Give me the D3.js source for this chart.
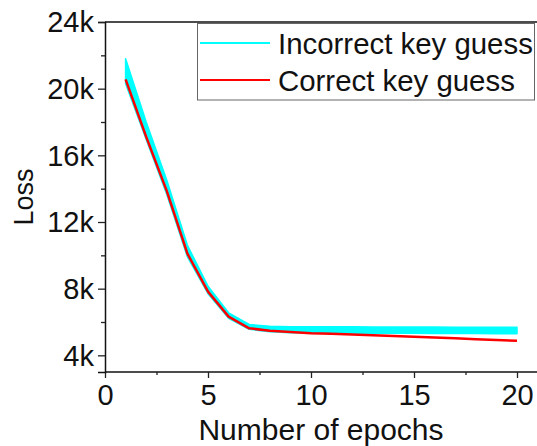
<!DOCTYPE html>
<html>
<head>
<meta charset="utf-8">
<script src="https://cdn.jsdelivr.net/npm/d3@7"></script>
<style>
  html, body { margin: 0; padding: 0; background: #fff; }
  svg { display: block; font-family: "Liberation Sans", Arial, sans-serif; }
</style>
</head>
<body>
<svg id="chart" width="537" height="446"></svg>
<script>
// Training epochs
const epochs = [1, 2, 3, 4, 5, 6, 7, 8, 9, 10, 11, 12, 13, 14, 15, 16, 17, 18, 19, 20];
// Loss (in thousands) for the correct key guess
const correctLoss = [20.56, 17.11, 13.85, 10.1, 7.82, 6.32, 5.62, 5.48, 5.40, 5.33, 5.29, 5.25, 5.21, 5.16, 5.12, 5.07, 5.02, 4.97, 4.92, 4.87];
// Envelope (min / max, thousands) of the loss over all incorrect key guesses
const incorrectLow  = [20.3, 16.95, 13.65, 9.9, 7.7, 6.22, 5.56, 5.42, 5.36, 5.34, 5.33, 5.33, 5.32, 5.32, 5.32, 5.31, 5.31, 5.31, 5.30, 5.30];
const incorrectHigh = [21.8, 18.0, 14.5, 10.6, 8.15, 6.55, 5.85, 5.74, 5.72, 5.71, 5.71, 5.71, 5.70, 5.70, 5.70, 5.70, 5.69, 5.69, 5.69, 5.69];
// Axis ticks
const xTicks = [0, 5, 10, 15, 20];
const xMinorTicks = [2.5, 7.5, 12.5, 17.5];
const yTicks = [4, 8, 12, 16, 20, 24];
const yMinorTicks = [6, 10, 14, 18, 22];
const yTickLabels = ["4k", "8k", "12k", "16k", "20k", "24k"];
// Legend entries
const legendLabels = ["Incorrect key guess", "Correct key guess"];
const legendColors = ["#00ffff", "#ff0000"];

const svg = d3.select("#chart");
const x = d3.scaleLinear().domain([0, 21]).range([105, 537.6]);
const y = d3.scaleLinear().domain([3, 24]).range([372, 22]);

const band = epochs.map((e, i) => ({ e, lo: incorrectLow[i], hi: incorrectHigh[i] }));
const red = epochs.map((e, i) => ({ e, v: correctLoss[i] }));

// Incorrect key guesses: filled envelope
svg.append("path")
  .datum(band)
  .attr("d", d3.area().x(d => x(d.e)).y0(d => y(d.lo)).y1(d => y(d.hi)))
  .attr("fill", "#00ffff")
  .attr("stroke", "#00ffff")
  .attr("stroke-width", 1.5)
  .attr("stroke-linejoin", "round");

// Correct key guess
svg.append("path")
  .datum(red)
  .attr("d", d3.line().x(d => x(d.e)).y(d => y(d.v)))
  .attr("fill", "none")
  .attr("stroke", "#ff0000")
  .attr("stroke-width", 2.5)
  .attr("stroke-linejoin", "round");

// Frame: top border
svg.append("line")
  .attr("x1", x(0)).attr("x2", 537).attr("y1", y(24)).attr("y2", y(24))
  .attr("stroke", "#111").attr("stroke-width", 1.5);

// X axis
const xAxis = svg.append("g").attr("transform", `translate(0,${y(3)})`)
  .call(d3.axisBottom(x).tickValues(xTicks).tickSize(6).tickPadding(6).tickFormat(d3.format("d")));
svg.append("g").attr("transform", `translate(0,${y(3)})`)
  .call(d3.axisBottom(x).tickValues(xMinorTicks).tickSize(3).tickFormat(""))
  .call(g => g.select(".domain").remove());

// Y axis
const yAxis = svg.append("g").attr("transform", `translate(${x(0)},0)`)
  .call(d3.axisLeft(y).tickValues(yTicks).tickSize(7).tickPadding(4)
    .tickFormat((d, i) => yTickLabels[i]));
svg.append("g").attr("transform", `translate(${x(0)},0)`)
  .call(d3.axisLeft(y).tickValues(yMinorTicks).tickSize(4).tickFormat(""))
  .call(g => g.select(".domain").remove());

svg.selectAll(".tick line").attr("stroke", "#222").attr("stroke-width", 1.3);
svg.selectAll(".domain").attr("stroke", "#111").attr("stroke-width", 1.5);
svg.selectAll(".tick text")
  .attr("font-family", "'Liberation Sans', Arial, sans-serif")
  .attr("font-size", 29).attr("fill", "#111");
yAxis.selectAll(".tick text").attr("dy", "0.34em");
xAxis.selectAll(".tick text").attr("dy", "0.74em");
xAxis.select(".domain").attr("d", `M${x(0)},0H537`);

// Axis titles
svg.append("text")
  .attr("x", (x(0) + 537) / 2).attr("y", 440)
  .attr("text-anchor", "middle").attr("font-size", 30).attr("fill", "#111")
  .text("Number of epochs");
svg.append("text")
  .attr("transform", `translate(33,${(y(3) + y(24)) / 2}) rotate(-90)`)
  .attr("text-anchor", "middle").attr("font-size", 27).attr("fill", "#111")
  .text("Loss");

// Legend
const legend = svg.append("g");
legend.append("rect")
  .attr("x", 197.5).attr("y", 23.5).attr("width", 337).attr("height", 76.5)
  .attr("fill", "#fff").attr("stroke", "#666").attr("stroke-width", 1);
legendLabels.forEach((label, i) => {
  const ly = 43 + i * 37;
  legend.append("line")
    .attr("x1", 200).attr("x2", 270).attr("y1", ly).attr("y2", ly)
    .attr("stroke", legendColors[i]).attr("stroke-width", 2);
  legend.append("text")
    .attr("x", 278).attr("y", ly + 11)
    .attr("font-size", 29.4).attr("fill", "#111")
    .text(label);
});
</script>
</body>
</html>
